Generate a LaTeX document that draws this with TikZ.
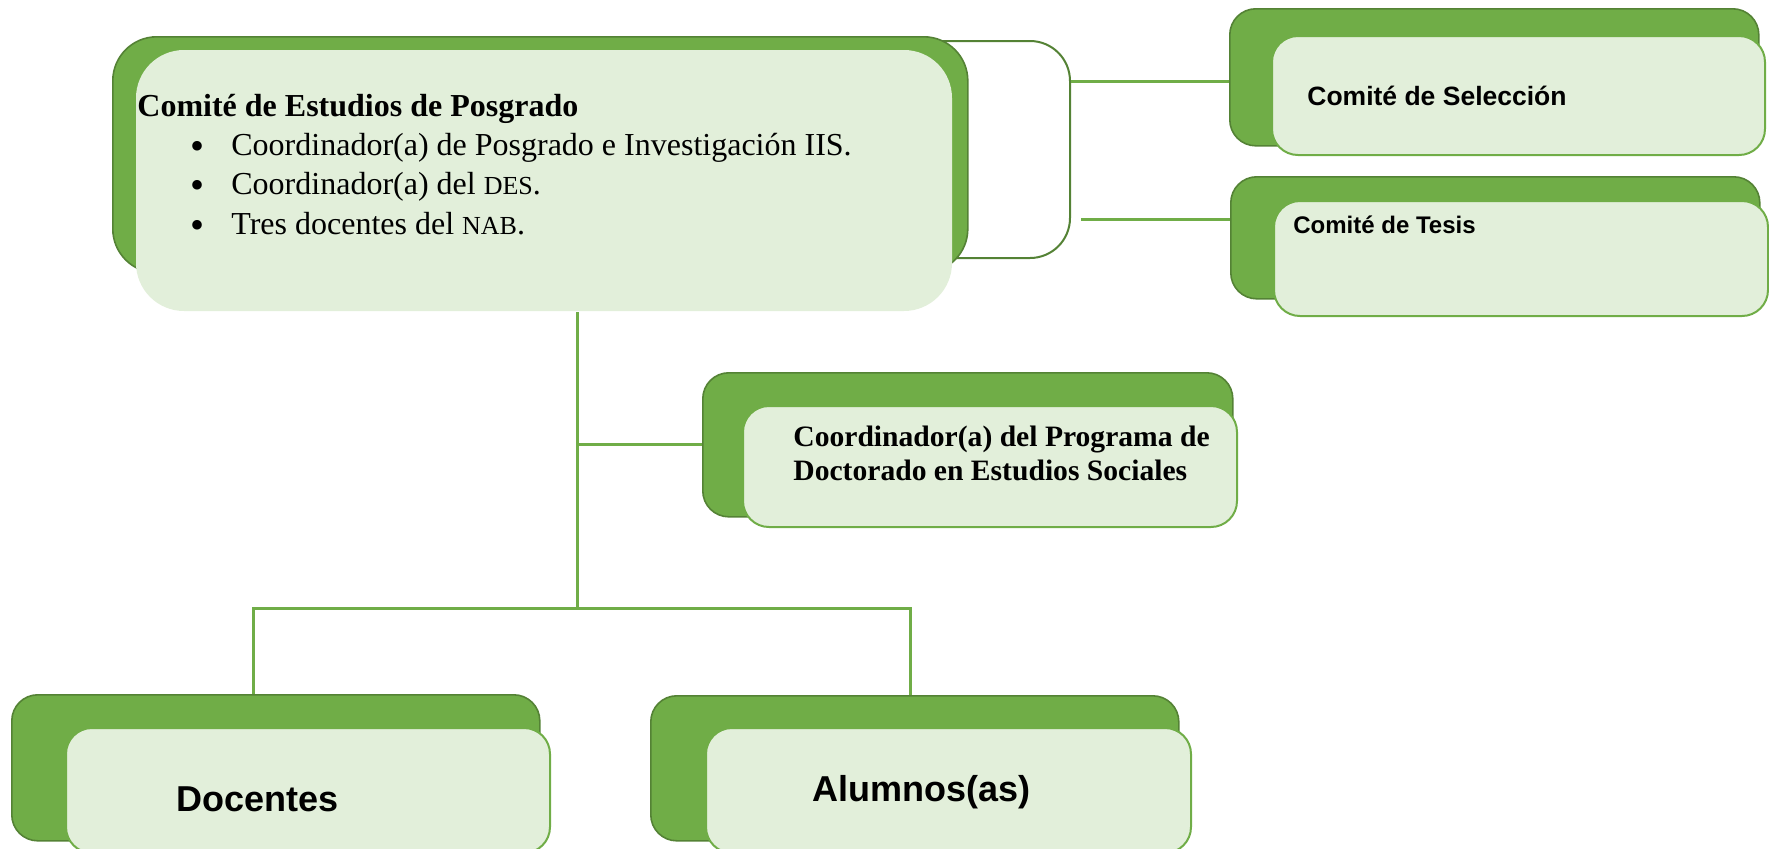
\documentclass[tikz,border=0pt]{standalone}
\usepackage{fontspec}
\setmainfont{Liberation Serif}
\setsansfont{Liberation Sans}
\usetikzlibrary{positioning}
\definecolor{hojaosc}{HTML}{70AD47}
\definecolor{bordeosc}{HTML}{548235}
\definecolor{hojaclara}{HTML}{E2EFDA}
\tikzset{
    fondo/.style={rectangle, rounded corners=13pt, draw=bordeosc, line width=0.8pt, fill=hojaosc, anchor=north west, inner sep=0pt},
    frente/.style={rectangle, rounded corners=13pt, draw=hojaosc, line width=1pt, fill=hojaclara, anchor=north west, inner sep=0pt},
    marco/.style={rectangle, rounded corners=20pt, draw=bordeosc, line width=1pt, anchor=north west, inner sep=0pt},
    titulo/.style={anchor=base west, inner sep=0pt, font=\bfseries\fontsize{16}{19}\selectfont},
    vineta/.style={anchor=base west, inner sep=0pt, font=\fontsize{16}{19}\selectfont},
    etiqueta/.style={anchor=base west, inner sep=0pt, font=\sffamily\bfseries},
    linea/.style={draw=hojaosc, line width=1.5pt}
}
\newcommand{\chica}[1]{{\fontsize{13}{13}\selectfont #1}}
\newcommand{\punto}{\llap{\raisebox{-2.2pt}{\smash{\fontsize{20}{20}\selectfont\textbullet}}\hspace{13.5pt}}}

\begin{document}
\begin{tikzpicture}[x=0.5pt, y=-0.5pt]
    \useasboundingbox (0,0) rectangle (1769,848);

    \node (llave) [marco, minimum width=94.5pt, minimum height=108.5pt] at (880,40) {};
    \node (selB) [fondo, minimum width=264.5pt, minimum height=68.5pt] at (1229,8) {};
    \node (selF) [frente, minimum width=246.5pt, minimum height=59.5pt] at (1271,35) {};
    \node (tesB) [fondo, minimum width=264.5pt, minimum height=61pt] at (1230,176) {};
    \node (tesF) [frente, minimum width=247pt, minimum height=57.5pt] at (1273,200) {};
    \node (coordB) [fondo, minimum width=265pt, minimum height=72pt] at (702,372) {};
    \node (coordF) [frente, minimum width=247pt, minimum height=60.5pt] at (742,405) {};
    \node (docB) [fondo, minimum width=264pt, minimum height=73pt] at (11,694) {};
    \node (docF) [frente, minimum width=242pt, minimum height=62.5pt] at (65,727) {};
    \node (aluB) [fondo, minimum width=264pt, minimum height=72.5pt] at (650,695) {};
    \node (aluF) [frente, minimum width=242.5pt, minimum height=62.5pt] at (705,727) {};
    \node (mainB) [fondo, rounded corners=22pt, minimum width=427.5pt, minimum height=118pt] at (112,36) {};
    \node (mainF) [frente, draw=none, rounded corners=24pt, minimum width=408pt, minimum height=130.5pt] at (135,49) {};

    \coordinate (cruce) at (577,608);
    \draw [linea] (llave.east |- 0,81) -- (selB.west |- 0,81);
    \draw [linea] ([xshift=5pt]llave.east |- 0,219) -- (tesB.west |- 0,219);
    \draw [linea] (cruce |- mainF.south) -- (cruce);
    \draw [linea] (cruce |- coordB.west) -- (coordB.west);
    \draw [linea] ([xshift=-11pt]docB.north) |- (cruce) -| ([xshift=-2pt]aluB.north);

    \node (tituloCEP) [titulo] at (137,116) {Comité de Estudios de Posgrado};
    \node (item1) [vineta] at (231,155) {\punto Coordinador(a) de Posgrado e Investigación IIS.};
    \node (item2) [vineta] at (231,194) {\punto Coordinador(a) del \chica{DES}.};
    \node (item3) [vineta] at (231,234) {\punto Tres docentes del \chica{NAB}.};

    \node (selT) [etiqueta, font=\sffamily\bfseries\fontsize{13.25}{15}\selectfont] at (1307,105) {Comité de Selección};
    \node (tesT) [etiqueta, font=\sffamily\bfseries\fontsize{12}{14}\selectfont] at (1293,233) {Comité de Tesis};
    \node (coordT1) [titulo, font=\bfseries\fontsize{14.8}{17}\selectfont] at (793,446) {Coordinador(a) del Programa de};
    \node (coordT2) [titulo, font=\bfseries\fontsize{14.8}{17}\selectfont] at ([yshift=-17pt]coordT1.base west) {Doctorado en Estudios Sociales};
    \node (docT) [etiqueta, font=\sffamily\bfseries\fontsize{18}{21}\selectfont] at (176,811) {Docentes};
    \node (aluT) [etiqueta, font=\sffamily\bfseries\fontsize{18}{21}\selectfont] at (812,801) {Alumnos(as)};
\end{tikzpicture}
\end{document}
